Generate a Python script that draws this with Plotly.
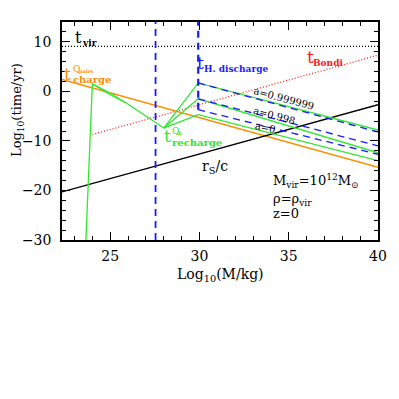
import plotly.graph_objects as go

# ---- data ----
tvir_x = [22.3, 40.0]
tvir_y = [9.1, 9.1]
bondi_x = [24.0, 40.0]
bondi_y = [-8.7, 7.3]
charge_x = [22.3, 40.0]
charge_y = [2.4, -15.3]
rs_x = [22.3, 40.0]
rs_y = [-20.3, -2.7]
vline1_x = [27.54, 27.54]
vline1_y = [-30.0, 14.0]
vline2_x = [29.93, 29.93]
vline2_y = [-3.7, 14.0]
hdis_top_x = [29.93, 40.0]
hdis_top_y = [1.7, -8.2]
hdis_mid_x = [29.93, 40.0]
hdis_mid_y = [-1.5, -11.0]
hdis_low_x = [29.93, 40.0]
hdis_low_y = [-3.7, -12.7]
green_main_x = [23.64, 24.0, 25.0, 25.9, 27.54, 28.0]
green_main_y = [-30.0, 1.5, -0.4, -2.35, -6.3, -7.4]
green_alt_x = [24.0, 25.0, 25.9]
green_alt_y = [1.5, -0.75, -2.35]
green_top_x = [28.0, 29.93, 40.0]
green_top_y = [-7.4, 1.7, -7.8]
green_mid_x = [28.0, 29.93, 40.0]
green_mid_y = [-7.4, -1.5, -12.4]
green_low_x = [28.0, 29.93, 40.0]
green_low_y = [-7.4, -4.7, -14.0]

x_range = [22.3, 40.0]
y_range = [-30.0, 14.0]
x_ticks = [25, 30, 35, 40]
y_ticks = [10, 0, -10, -20, -30]
y_ticklabels = ["10", "0", "\u221210", "\u221220", "\u221230"]

GREEN = "#2ee82e"
BLUE = "#1a1aff"
ORANGE = "#ff8c00"
RED = "#ff1a1a"
FONT = "DejaVu Serif"

fig = go.Figure()

def line(x, y, color, width=1.3, dash=None):
    fig.add_trace(go.Scatter(x=x, y=y, mode="lines", showlegend=False,
                             line=dict(color=color, width=width, dash=dash),
                             hoverinfo="skip"))

line(tvir_x, tvir_y, "black", 1.2, "1px,2px")
line(bondi_x, bondi_y, RED, 1.3, "1px,2px")
line(charge_x, charge_y, ORANGE, 1.5)
line(rs_x, rs_y, "black", 1.3)
line(green_main_x, green_main_y, GREEN, 1.3)
line(green_alt_x, green_alt_y, GREEN, 1.0)
line(green_top_x, green_top_y, GREEN, 1.3)
line(green_mid_x, green_mid_y, GREEN, 1.3)
line(green_low_x, green_low_y, GREEN, 1.3)
line(vline1_x, vline1_y, BLUE, 1.8, "7px,5px")
line(vline2_x, vline2_y, BLUE, 2.2, "7px,5px")
line(hdis_top_x, hdis_top_y, BLUE, 1.3, "7px,5px")
line(hdis_mid_x, hdis_mid_y, BLUE, 1.3, "7px,5px")
line(hdis_low_x, hdis_low_y, BLUE, 1.3, "7px,5px")

# ---- layout geometry (page body adds an 8px offset) ----
OFF = 8
L, T, W, H = 62, 22, 316, 218

def ann(text, px, py, size, color="black", xa="left", ya="middle", angle=0, bold=False):
    if bold:
        text = "<b>" + text + "</b>"
    fig.add_annotation(text=text, x=(px - L) / W, y=(T + H - py) / H,
                       xref="paper", yref="paper", showarrow=False,
                       xanchor=xa, yanchor=ya, textangle=angle,
                       font=dict(family=FONT, size=size, color=color))

# t_vir
ann("t", 73, 37, 16)
ann("vir", 80, 43, 9, bold=True)
# t charge (orange)
ann("t", 62, 74, 17, ORANGE)
ann("Q", 71, 69, 9, ORANGE)
ann("pairs", 77, 71, 5, ORANGE, bold=True)
ann("charge", 71, 79, 10, ORANGE, bold=True)
# t recharge (green)
ann("t", 162, 136, 17, GREEN)
ann("Q", 170, 131, 9, GREEN)
ann("h", 176, 133, 5, GREEN, bold=True)
ann("recharge", 170, 142, 10, GREEN, bold=True)
# t H. discharge (blue)
ann("t", 195, 63, 17, BLUE)
ann("H. discharge", 202, 69, 9, BLUE, bold=True)
# t Bondi
ann("t", 305, 57, 17, RED)
ann("Bondi", 311, 63, 9, RED, bold=True)
# spin labels
ann("a=0.999999", 284, 98, 10, xa="center", angle=15)
ann("a=0.998", 274, 115, 10, xa="center", angle=15)
ann("a=0", 265, 127, 10, xa="center", angle=12)
# r_s/c
ann("r<sub>S</sub>/c", 200, 167, 14)
# info text
ann("M<sub>vir</sub>=10<sup>12</sup>M<sub>\u2299</sub>", 271, 181, 13)
ann("\u03c1=\u03c1<sub>vir</sub>", 271, 199, 13)
ann("z=0", 271, 213, 13)
# axis titles
fig.add_annotation(text="Log<sub>10</sub>(time/yr)", x=(17 - L) / W, y=(T + H - 110) / H,
                   xref="paper", yref="paper", showarrow=False, textangle=-90,
                   xanchor="center", yanchor="middle",
                   font=dict(family=FONT, size=13, color="black"))
fig.add_annotation(text="Log<sub>10</sub>(M/kg)", x=(220 - L) / W, y=(T + H - 275) / H,
                   xref="paper", yref="paper", showarrow=False,
                   xanchor="center", yanchor="middle",
                   font=dict(family=FONT, size=14, color="black"))

axis_common = dict(showline=True, linecolor="black", linewidth=1.5, mirror="allticks",
                   ticks="inside", ticklen=8, tickwidth=1, tickcolor="black",
                   showgrid=False, zeroline=False,
                   tickfont=dict(family=FONT, size=14, color="black"))

fig.update_xaxes(range=x_range, tickvals=x_ticks, ticktext=[str(v) for v in x_ticks],
                 minor=dict(ticks="inside", dtick=1, tick0=0, ticklen=4, tickcolor="black", showgrid=False),
                 ticklabelstandoff=2, **axis_common)
fig.update_yaxes(range=y_range, tickvals=y_ticks, ticktext=y_ticklabels,
                 minor=dict(ticks="inside", dtick=2, tick0=0, ticklen=4, tickcolor="black", showgrid=False),
                 ticklabelstandoff=6, **axis_common)

ml, mt = L - OFF, T - OFF
fig.update_layout(width=399, height=399,
                  margin=dict(l=ml, r=399 - ml - W, t=mt, b=399 - mt - H),
                  plot_bgcolor="white", paper_bgcolor="white", showlegend=False)

fig.write_html("out.html")
